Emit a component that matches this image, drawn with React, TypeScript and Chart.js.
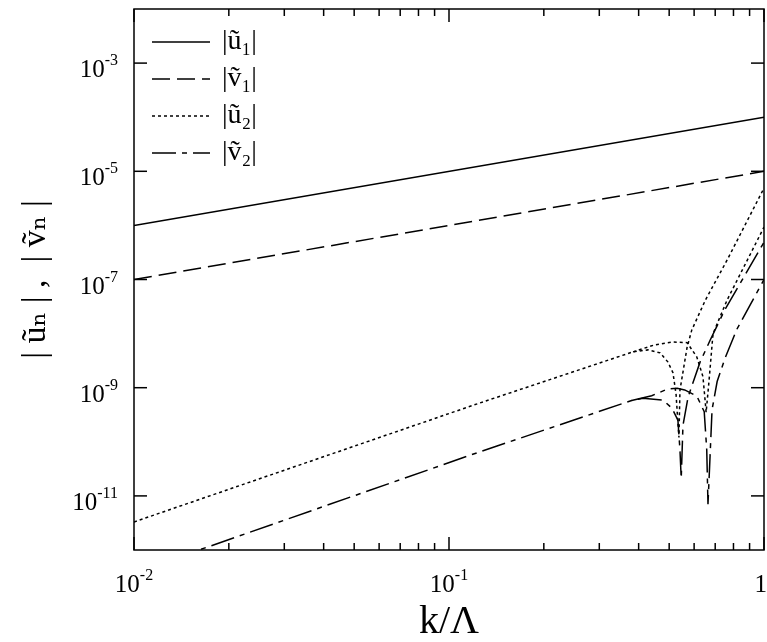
import React, { useEffect, useRef } from "react";
import { Chart, registerables } from "chart.js";

Chart.register(...registerables);

// ---- data ----
const kU1 = [0.01, 1];
const u1 = [1e-6, 1e-4];

const kV1 = [0.01, 1];
const v1 = [1e-7, 1e-5];

const kU2a = [0.01, 0.125, 0.384, 0.428, 0.468, 0.495, 0.514, 0.526, 0.533, 0.537, 0.541, 0.57, 0.59, 0.652, 0.764, 1.0];
const u2a = [3.3e-12, 5.2e-10, 4.6e-9, 5.0e-9, 4.4e-9, 3.0e-9, 1.9e-9, 7.4e-10, 2.2e-10, 1.2e-10, 9e-10, 5.6e-9, 1.17e-8, 4.2e-8, 2.3e-7, 4.9e-6];

const kU2b = [0.384, 0.45, 0.514, 0.57, 0.612, 0.64, 0.65, 0.655, 0.668, 0.689, 0.764, 1.0];
const u2b = [4.6e-9, 6.2e-9, 7.0e-9, 6.8e-9, 3.7e-9, 1.6e-9, 5.9e-10, 3.5e-10, 1.2e-9, 1.0e-8, 4.2e-8, 9.3e-7];

const kV2a = [0.01, 0.125, 0.38, 0.413, 0.478, 0.51, 0.533, 0.541, 0.546, 0.553, 0.574, 0.627, 0.675, 0.752, 1.0];
const v2a = [3.8e-13, 6.5e-11, 5.8e-10, 6.4e-10, 5.9e-10, 4.2e-10, 2.5e-10, 7.1e-11, 2.1e-11, 2.0e-10, 6.7e-10, 3.0e-9, 7.6e-9, 2.8e-8, 4.9e-7];

const kV2b = [0.38, 0.44, 0.495, 0.53, 0.56, 0.612, 0.646, 0.658, 0.664, 0.684, 0.71, 0.752, 0.82, 0.904, 1.0];
const v2b = [5.8e-10, 7.1e-10, 9.5e-10, 9.8e-10, 9.1e-10, 7e-10, 3.6e-10, 7.1e-11, 7e-12, 3.9e-10, 1.3e-9, 3.5e-9, 1.2e-8, 3.4e-8, 1e-7];

const seriesLabels = ["|ũ₁|", "|ṽ₁|", "|ũ₂|", "|ṽ₂|"];

const xTickValues = [0.01, 0.1, 1];
const xTickBase = ["10", "10", "1"];
const xTickExp = ["-2", "-1", ""];
const xMinorTicks = [0.02, 0.03, 0.04, 0.05, 0.06, 0.07, 0.08, 0.09, 0.2, 0.3, 0.4, 0.5, 0.6, 0.7, 0.8, 0.9];
const yTickValues = [1e-3, 1e-5, 1e-7, 1e-9, 1e-11];
const yTickBase = ["10", "10", "10", "10", "10"];
const yTickExp = ["-3", "-5", "-7", "-9", "-11"];

const SERIF = "'Liberation Serif', 'Times New Roman', 'DejaVu Serif', serif";

const pts = (ks: number[], vs: number[]) => ks.map((k, i) => ({ x: k, y: vs[i] }));

const DASH_V1 = [18, 7];
const DASH_U2 = [3, 3];
const DASH_V2 = [24, 6, 5, 6];

const BASE_FONT = `25px ${SERIF}`;
const EXP_FONT = `16px ${SERIF}`;

const frameAndLegend = {
  id: "frameAndLegend",
  afterDraw(chart: any) {
    const { ctx, chartArea: a, scales } = chart;
    const x = scales.x;
    const y = scales.y;
    ctx.save();
    ctx.strokeStyle = "#000";
    ctx.fillStyle = "#000";
    ctx.lineWidth = 1.5;
    ctx.setLineDash([]);
    ctx.strokeRect(a.left, a.top, a.right - a.left, a.bottom - a.top);
    const seg = (x1: number, y1: number, x2: number, y2: number) => {
      ctx.beginPath();
      ctx.moveTo(x1, y1);
      ctx.lineTo(x2, y2);
      ctx.stroke();
    };
    xTickValues.forEach((v) => {
      const p = x.getPixelForValue(v);
      seg(p, a.bottom, p, a.bottom - 13);
      seg(p, a.top, p, a.top + 13);
    });
    xMinorTicks.forEach((v) => {
      const p = x.getPixelForValue(v);
      seg(p, a.bottom, p, a.bottom - 7);
      seg(p, a.top, p, a.top + 7);
    });
    yTickValues.forEach((v) => {
      const p = y.getPixelForValue(v);
      seg(a.left, p, a.left + 13, p);
      seg(a.right, p, a.right - 13, p);
    });

    // tick labels with superscript exponents
    ctx.textBaseline = "alphabetic";
    ctx.textAlign = "left";
    const measure = (b: string, e: string) => {
      ctx.font = BASE_FONT;
      const wb = ctx.measureText(b).width;
      ctx.font = EXP_FONT;
      const we = e ? ctx.measureText(e).width : 0;
      return { wb, we };
    };
    const drawLabel = (b: string, e: string, left: number, baseline: number, wb: number) => {
      ctx.font = BASE_FONT;
      ctx.fillText(b, left, baseline);
      if (e) {
        ctx.font = EXP_FONT;
        ctx.fillText(e, left + wb, baseline - 12);
      }
    };
    xTickValues.forEach((v, i) => {
      const p = x.getPixelForValue(v);
      const { wb, we } = measure(xTickBase[i], xTickExp[i]);
      const w = wb + we;
      let left = p - w / 2;
      if (left + w > chart.width) left = chart.width - w;
      drawLabel(xTickBase[i], xTickExp[i], left, a.bottom + 42, wb);
    });
    yTickValues.forEach((v, i) => {
      const p = y.getPixelForValue(v);
      const { wb, we } = measure(yTickBase[i], yTickExp[i]);
      const right = a.left - 16;
      drawLabel(yTickBase[i], yTickExp[i], right - wb - we, p + 14, wb);
    });

    // legend
    ctx.font = `28px ${SERIF}`;
    ctx.textBaseline = "middle";
    ctx.textAlign = "left";
    let i = 0;
    chart.data.datasets.forEach((ds: any) => {
      if (!ds.label) return;
      const yc = a.top + 33 + i * 37;
      ctx.lineWidth = 1.5;
      ctx.setLineDash(ds.borderDash || []);
      seg(a.left + 18, yc, a.left + 76, yc);
      ctx.setLineDash([]);
      ctx.fillText(ds.label, a.left + 88, yc);
      i++;
    });
    ctx.restore();
  },
};

export default function App() {
  const ref = useRef<HTMLCanvasElement | null>(null);
  useEffect(() => {
    if (!ref.current) return;
    const base = { borderColor: "#000", borderWidth: 1.5, pointRadius: 0, tension: 0, fill: false };
    const chart = new Chart(ref.current, {
      type: "line",
      data: {
        datasets: [
          { ...base, label: seriesLabels[0], data: pts(kU1, u1) },
          { ...base, label: seriesLabels[1], data: pts(kV1, v1), borderDash: DASH_V1 },
          { ...base, label: seriesLabels[2], data: pts(kU2a, u2a), borderDash: DASH_U2 },
          { ...base, label: seriesLabels[3], data: pts(kV2a, v2a), borderDash: DASH_V2 },
          { ...base, label: "", data: pts(kU2b, u2b), borderDash: DASH_U2 },
          { ...base, label: "", data: pts(kV2b, v2b), borderDash: DASH_V2 },
        ] as any,
      },
      options: {
        animation: false,
        responsive: false,
        maintainAspectRatio: false,
        layout: { padding: { top: 9, right: 3, left: 0, bottom: 0 } },
        plugins: { legend: { display: false }, tooltip: { enabled: false } },
        scales: {
          x: {
            type: "logarithmic",
            min: 0.01,
            max: 1,
            grid: { display: false, drawTicks: false },
            border: { display: false },
            afterBuildTicks: (s: any) => {
              s.ticks = xTickValues.map((v) => ({ value: v }));
            },
            afterFit: (s: any) => {
              s.height = 92;
            },
            ticks: { display: false },
            title: {
              display: true,
              text: "k/Λ",
              color: "#000",
              font: { family: SERIF, size: 40, lineHeight: 1 },
              padding: { top: 0, bottom: 0 },
            },
          },
          y: {
            type: "logarithmic",
            min: 1e-12,
            max: 1e-2,
            grid: { display: false, drawTicks: false },
            border: { display: false },
            afterBuildTicks: (s: any) => {
              s.ticks = yTickValues.map((v) => ({ value: v }));
            },
            afterFit: (s: any) => {
              s.width = 134;
            },
            ticks: { display: false },
            title: {
              display: true,
              text: "| ũₙ | ,  | ṽₙ |",
              color: "#000",
              font: { family: SERIF, size: 34, lineHeight: 1 },
              padding: { top: 19, bottom: 0 },
            },
          },
        },
      } as any,
      plugins: [frameAndLegend],
    });
    return () => chart.destroy();
  }, []);
  return (
    <div style={{ position: "fixed", left: 0, top: 0, width: 767, height: 642, background: "#fff" }}>
      <canvas ref={ref} width={767} height={642} style={{ width: 767, height: 642 }} />
    </div>
  );
}
